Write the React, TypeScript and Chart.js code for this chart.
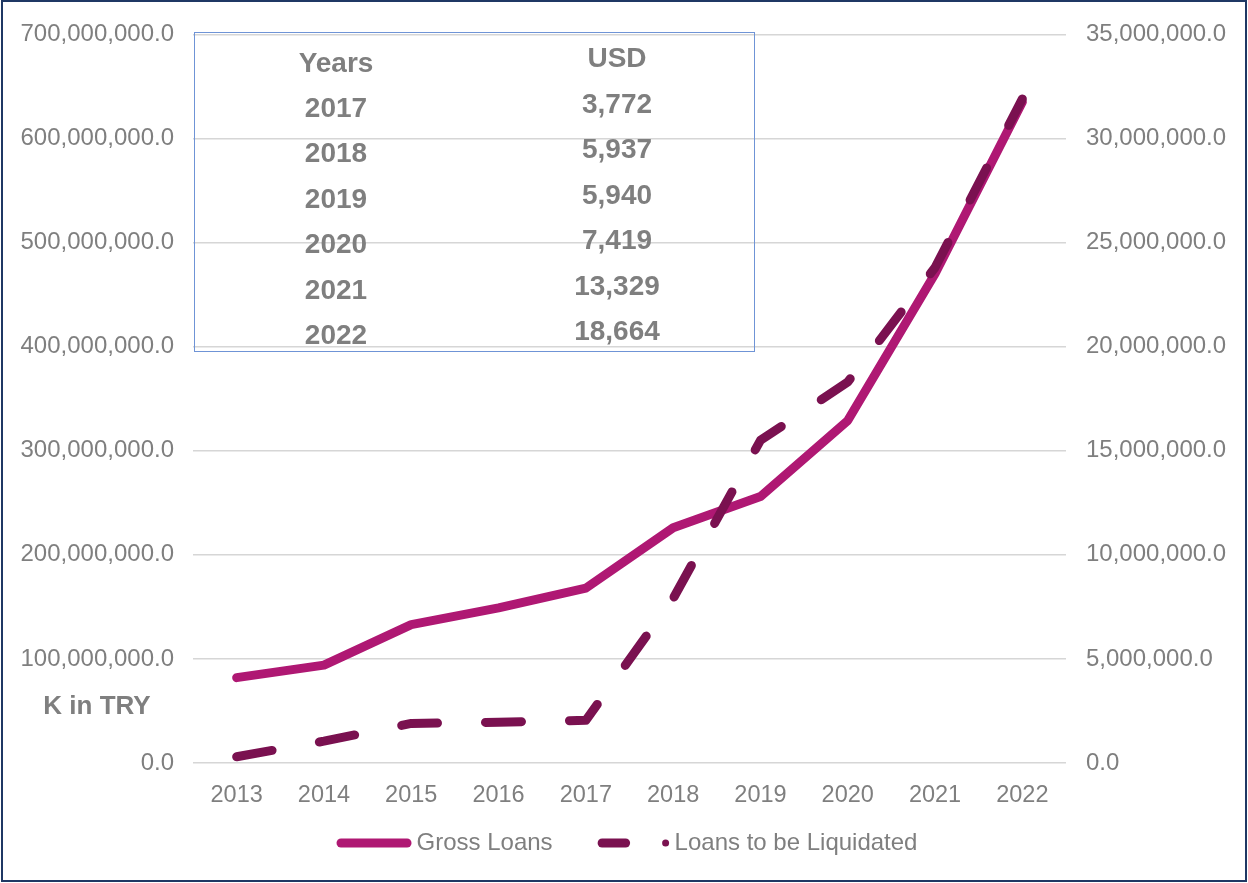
import React, { useEffect, useRef } from "react";
import { Chart, registerables } from "chart.js";

Chart.register(...registerables);

// ---------- data ----------
const years = ["2013", "2014", "2015", "2016", "2017", "2018", "2019", "2020", "2021", "2022"];
const grossLoans = [82e6, 94e6, 133e6, 149e6, 168e6, 226e6, 256e6, 329e6, 470e6, 635e6];
const loansToBeLiquidated = [0.3e6, 1.05e6, 1.9e6, 1.96e6, 2.05e6, 7.9e6, 15.5e6, 18.3e6, 23.8e6, 31.9e6];
const seriesLabels = ["Gross Loans", "Loans to be Liquidated"];

const leftAxisMax = 700e6;
const leftAxisStep = 100e6;
const rightAxisMax = 35e6;
const rightAxisStep = 5e6;

const tableHeader = ["Years", "USD"];
const tableYears = ["2017", "2018", "2019", "2020", "2021", "2022"];
const tableUsd = ["3,772", "5,937", "5,940", "7,419", "13,329", "18,664"];
const axisTitle = "K in TRY";

// ---------- styles ----------
const FONT = "'Liberation Sans', Arial, sans-serif";
const GRAY = "#7f7f7f";
const GROSS_COLOR = "#af1873";
const LIQ_COLOR = "#7a1150";
const LINE_W = 9;
const DASH = [36, 48];

const fmt = (v: number) =>
  Number(v).toLocaleString("en-US", { minimumFractionDigits: 1, maximumFractionDigits: 1 });

const legendPlugin = {
  id: "customLegend",
  afterDraw(chart: any) {
    const ctx = chart.ctx as CanvasRenderingContext2D;
    const ds = chart.data.datasets;
    ctx.save();
    ctx.font = `24px ${FONT}`;
    const y = 843;
    const sampleW = 75;
    const gap = 5;
    const spacing = 42;
    const widths = ds.map((d: any) => sampleW + gap + ctx.measureText(d.label).width);
    const total = widths.reduce((a: number, b: number) => a + b, 0) + spacing * (ds.length - 1);
    let x = chart.width / 2 - total / 2 + 3;
    ds.forEach((d: any, i: number) => {
      ctx.strokeStyle = d.borderColor;
      ctx.fillStyle = d.borderColor;
      ctx.lineWidth = d.borderWidth;
      ctx.lineCap = "round";
      ctx.beginPath();
      if (d.borderDash && d.borderDash.length) {
        ctx.moveTo(x + 7.5, y);
        ctx.lineTo(x + 31, y);
        ctx.stroke();
        ctx.beginPath();
        ctx.arc(x + sampleW - 4, y, 3.5, 0, Math.PI * 2);
        ctx.fill();
      } else {
        ctx.moveTo(x + 4.5, y);
        ctx.lineTo(x + sampleW - 4.5, y);
        ctx.stroke();
      }
      ctx.fillStyle = GRAY;
      ctx.textBaseline = "middle";
      ctx.textAlign = "left";
      ctx.fillText(d.label, x + sampleW + gap, y);
      x += widths[i] + spacing;
    });
    ctx.restore();
  },
};

export default function App() {
  const ref = useRef<HTMLCanvasElement | null>(null);

  useEffect(() => {
    if (!ref.current) return;
    const chart = new Chart(ref.current, {
      type: "line",
      data: {
        labels: years,
        datasets: [
          {
            label: seriesLabels[0],
            data: grossLoans,
            yAxisID: "y",
            borderColor: GROSS_COLOR,
            backgroundColor: GROSS_COLOR,
            borderWidth: LINE_W,
            borderCapStyle: "round",
            borderJoinStyle: "round",
            pointRadius: 0,
            tension: 0,
            order: 2,
          },
          {
            label: seriesLabels[1],
            data: loansToBeLiquidated,
            yAxisID: "y1",
            borderColor: LIQ_COLOR,
            backgroundColor: LIQ_COLOR,
            borderWidth: LINE_W,
            borderDash: DASH,
            borderCapStyle: "round",
            borderJoinStyle: "round",
            pointRadius: 0,
            tension: 0,
            order: 1,
          },
        ],
      },
      options: {
        responsive: false,
        animation: false,
        layout: { padding: { top: 31, left: 0, right: 0, bottom: 0 } },
        plugins: {
          legend: { display: false },
          tooltip: { enabled: false },
        },
        scales: {
          x: {
            offset: true,
            grid: { display: false, drawTicks: false },
            border: { display: false },
            ticks: { color: GRAY, font: { family: FONT, size: 23.5 }, padding: 18, maxRotation: 0 },
            afterFit: (s: any) => {
              s.height = 120;
            },
          },
          y: {
            position: "left",
            min: 0,
            max: leftAxisMax,
            grid: { color: "#d6d6d6", lineWidth: 1.5, drawTicks: false },
            border: { display: false },
            ticks: {
              stepSize: leftAxisStep,
              color: GRAY,
              font: { family: FONT, size: 24 },
              padding: 19,
              callback: (v: any) => fmt(v),
            },
            afterFit: (s: any) => {
              s.width = 193;
            },
          },
          y1: {
            position: "right",
            min: 0,
            max: rightAxisMax,
            grid: { display: false, drawTicks: false },
            border: { display: false },
            ticks: {
              stepSize: rightAxisStep,
              color: GRAY,
              font: { family: FONT, size: 24 },
              padding: 20,
              callback: (v: any) => fmt(v),
            },
            afterFit: (s: any) => {
              s.width = 182;
            },
          },
        },
      },
      plugins: [legendPlugin],
    } as any);
    return () => chart.destroy();
  }, []);

  const cellStyle = (cx: number, cy: number): React.CSSProperties => ({
    position: "absolute",
    left: cx,
    top: cy,
    transform: "translate(-50%, -50%)",
    font: `bold 28px ${FONT}`,
    color: GRAY,
    whiteSpace: "nowrap",
    lineHeight: 1,
  });

  return (
    <div style={{ position: "absolute", left: 0, top: 0, width: 1248, height: 883, background: "#fff" }}>
      <canvas ref={ref} width={1248} height={883} style={{ position: "absolute", left: 0, top: 0, width: 1248, height: 883 }} />
      <div
        style={{
          position: "absolute",
          left: 194,
          top: 32,
          width: 561,
          height: 320,
          boxSizing: "border-box",
          border: "1.5px solid #6f94d6",
          pointerEvents: "none",
        }}
      />
      <div style={cellStyle(336, 63)}>{tableHeader[0]}</div>
      <div style={cellStyle(617, 58)}>{tableHeader[1]}</div>
      {tableYears.map((yr, i) => (
        <div key={"y" + yr} style={cellStyle(336, 108 + i * 45.4)}>{yr}</div>
      ))}
      {tableUsd.map((u, i) => (
        <div key={"u" + i} style={cellStyle(617, 104 + i * 45.4)}>{u}</div>
      ))}
      <div
        style={{
          position: "absolute",
          left: 97,
          top: 705,
          transform: "translate(-50%, -50%)",
          font: `bold 26px ${FONT}`,
          color: GRAY,
          whiteSpace: "nowrap",
          lineHeight: 1,
        }}
      >
        {axisTitle}
      </div>
      <div
        style={{
          position: "absolute",
          left: 1,
          top: 0,
          width: 1246,
          height: 882,
          boxSizing: "border-box",
          border: "2.5px solid #1f3864",
          pointerEvents: "none",
        }}
      />
    </div>
  );
}
